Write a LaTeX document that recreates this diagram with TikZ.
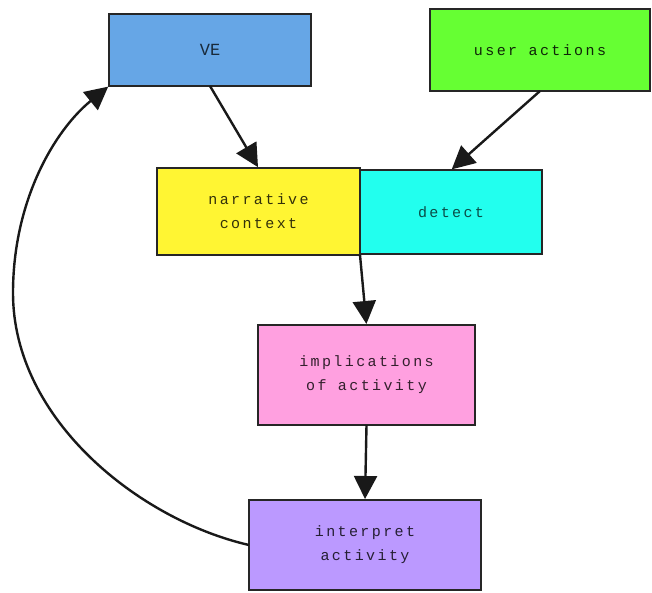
\documentclass[tikz,border=0pt]{standalone}
\usepackage{fontspec}
\newfontfamily\boxfont[LetterSpace=16]{Liberation Mono}
\newfontfamily\vefont{Liberation Mono}
\usetikzlibrary{arrows.meta}
\definecolor{cve}{HTML}{66A6E6}
\definecolor{cuser}{HTML}{66FF33}
\definecolor{cnarr}{HTML}{FFF533}
\definecolor{cdet}{HTML}{22FFEE}
\definecolor{cimpl}{HTML}{FFA0E0}
\definecolor{cint}{HTML}{BB99FF}
\tikzset{
  box/.style={draw=black!85, line width=2.2pt, outer sep=0pt, inner sep=2pt,
    align=center, font=\boxfont\fontsize{15}{24}\selectfont},
  conn/.style={line width=2.4pt, draw=black!90,
    -{Triangle[length=23pt,width=23pt]}, shorten >=1pt},
}
\begin{document}
\begin{tikzpicture}[x=1pt,y=-1pt]
\useasboundingbox (0,0) rectangle (652,592);
\node[box, fill=cve, text=cve!25!black, minimum width=202pt, minimum height=72pt,
  font=\vefont\fontsize{17}{20}\selectfont] (ve) at (210,50) {VE};
\node[box, fill=cuser, text=cuser!15!black, minimum width=220pt, minimum height=82pt] (user) at (540,50) {user actions};
\node[box, fill=cnarr, text=cnarr!20!black, minimum width=203pt, minimum height=87pt] (narr) at (258.5,211.5) {narrative\\context};
\node[box, fill=cdet, text=cdet!30!black, minimum width=182pt, minimum height=84pt] (det) at (451,212) {detect};
\node[box, fill=cimpl, text=cimpl!20!black, minimum width=217pt, minimum height=100pt] (impl) at (366.5,375) {implications\\of activity};
\node[box, fill=cint, text=cint!20!black, minimum width=232pt, minimum height=90pt] (int) at (365,545) {interpret\\activity};
\draw[conn] (ve.south) -- (narr.north);
\draw[conn] (user.south) -- (det.north);
\draw[conn] (narr.south east) -- (impl.north);
\draw[conn] (impl.south) -- (int.north);
\coordinate (lft) at (13,293);
\draw[conn] (int.west) .. controls (140,520) and (13,420) .. (lft)
  .. controls (13,200) and (55,130) .. (ve.south west);
\end{tikzpicture}
\end{document}
